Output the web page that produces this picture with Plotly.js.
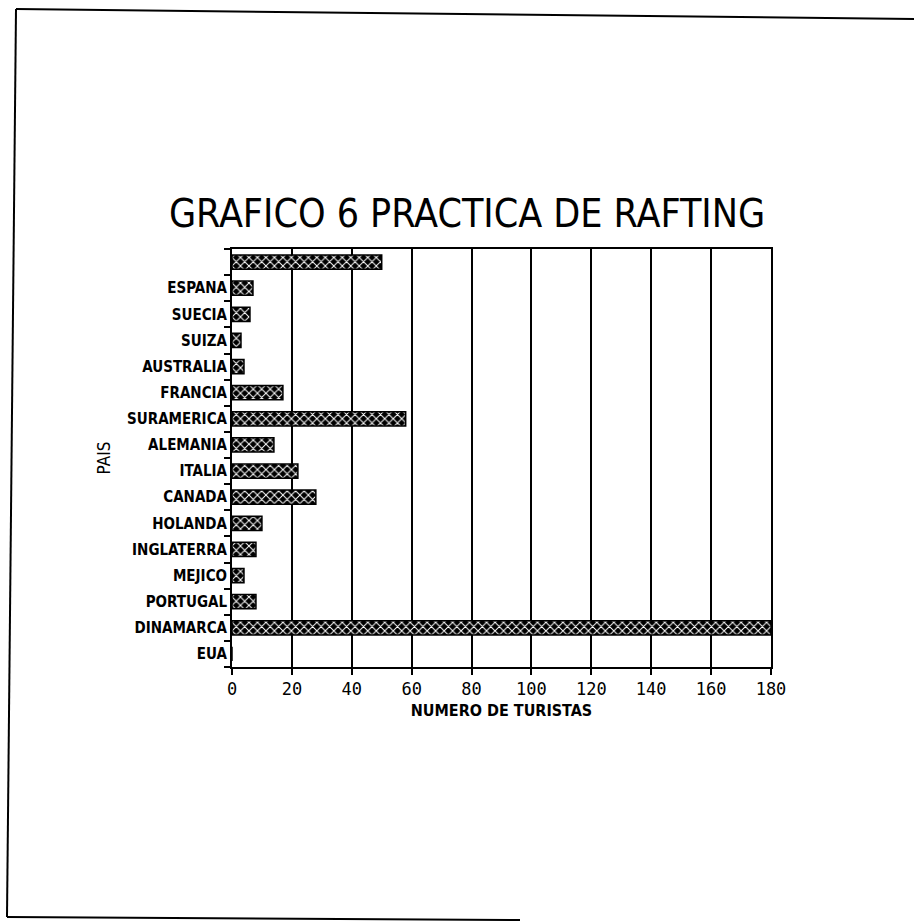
<!DOCTYPE html>
<html>
<head>
<meta charset="utf-8">
<script src="https://cdn.plot.ly/plotly-3.0.1.min.js"></script>
<style>html,body{margin:0;padding:0;background:#fff;}#chart{width:914px;height:923px;}</style>
</head>
<body>
<div id="chart"></div>
<script>
// Categories from bottom to top (last one has no readable label)
const categories = ['EUA','DINAMARCA','PORTUGAL','MEJICO','INGLATERRA','HOLANDA','CANADA','ITALIA','ALEMANIA','SURAMERICA','FRANCIA','AUSTRALIA','SUIZA','SUECIA','ESPANA','OTRO'];
const tickLabels = ['EUA','DINAMARCA','PORTUGAL','MEJICO','INGLATERRA','HOLANDA','CANADA','ITALIA','ALEMANIA','SURAMERICA','FRANCIA','AUSTRALIA','SUIZA','SUECIA','ESPANA',''];
const turistas = [0,180,8,4,8,10,28,22,14,58,17,4,3,6,7,50];
const xTicks = [0,20,40,60,80,100,120,140,160,180];

const W = 914, H = 923;
const L = 232, R = 771, T = 249, B = 667;
const px = x => (x - L) / (R - L);
const py = y => (B - y) / (B - T);
const NARROW = "'DejaVu Sans Condensed', 'Liberation Sans', sans-serif";

const trace = {
  type: 'bar',
  orientation: 'h',
  y: categories,
  x: turistas,
  width: 0.55,
  marker: {
    color: '#000',
    line: {color: '#000', width: 1.5},
    pattern: {shape: 'x', fgcolor: '#fff', bgcolor: '#000', size: 6, solidity: 0.3, fillmode: 'replace'}
  },
  hoverinfo: 'skip'
};

function line(x0,y0,x1,y1){
  return {type:'line', xref:'paper', yref:'paper', x0:px(x0), y0:py(y0), x1:px(x1), y1:py(y1), line:{color:'#000', width:2}};
}

const layout = {
  width: W, height: H,
  margin: {l: L, r: W - R, t: T, b: H - B, pad: 0},
  paper_bgcolor: '#fff', plot_bgcolor: '#fff',
  showlegend: false,
  bargap: 0.45,
  title: {
    text: 'GRAFICO 6 PRACTICA DE RAFTING',
    font: {family: NARROW, size: 39, color: '#000'},
    xref: 'container', yref: 'container', x: 467 / W, y: 1 - 213 / H, xanchor: 'center', yanchor: 'middle'
  },
  xaxis: {
    range: [0, 180],
    tickmode: 'array', tickvals: xTicks, ticktext: xTicks.map(String),
    showgrid: true, gridcolor: '#000', gridwidth: 2,
    zeroline: false,
    showline: true, linecolor: '#000', linewidth: 2, mirror: true,
    ticks: 'outside', ticklen: 6, tickcolor: '#000', tickwidth: 2,
    tickfont: {family: 'DejaVu Sans Mono', size: 17, color: '#000'},
    title: {text: '<b>NUMERO DE TURISTAS</b>', font: {family: NARROW, size: 16, color: '#000'}, standoff: 6},
    automargin: false, fixedrange: true
  },
  yaxis: {
    type: 'category',
    categoryorder: 'array', categoryarray: categories,
    range: [-0.5, categories.length - 0.5],
    tickmode: 'array', tickvals: categories, ticktext: tickLabels.map(t => t ? '<b>' + t + '</b>' : ''),
    tickson: 'boundaries',
    showgrid: false, zeroline: false,
    showline: true, linecolor: '#000', linewidth: 2, mirror: true,
    ticks: 'outside', ticklen: 6, tickcolor: '#000', tickwidth: 2,
    tickfont: {family: NARROW, size: 15, color: '#000'},
    title: {text: 'PAIS', font: {family: NARROW, size: 17, color: '#000'}, standoff: 12},
    automargin: false, fixedrange: true
  },
  shapes: [
    line(16, 9, 914, 19),
    line(16, 9, 7, 917),
    line(7, 917, 520, 920)
  ]
};

Plotly.newPlot('chart', [trace], layout, {displayModeBar: false, staticPlot: true});
</script>
</body>
</html>
